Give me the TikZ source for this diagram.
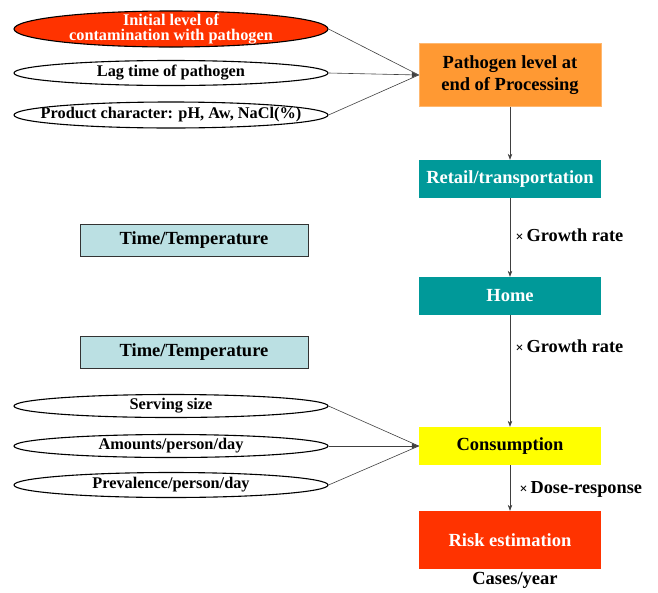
\documentclass[tikz,border=0pt]{standalone}
\usepackage{fontspec}
\setmainfont{Liberation Serif}
\usetikzlibrary{shapes.geometric,arrows.meta}
\definecolor{redc}{HTML}{FF3300}
\definecolor{orangec}{HTML}{FF9933}
\definecolor{tealc}{HTML}{009999}
\definecolor{yellowc}{HTML}{FFFF00}
\definecolor{cyanc}{HTML}{BBE0E3}
\tikzset{
  oval/.style={ellipse, draw=black, line width=1.1pt, minimum width=314pt, inner xsep=-40pt, inner ysep=-8pt, font=\bfseries\fontsize{16.3}{14.5}\selectfont, align=center},
  stage/.style={rectangle, minimum width=182pt, inner sep=0pt, font=\bfseries\fontsize{18.5}{22}\selectfont, align=center},
  ttbox/.style={rectangle, draw=black!80, line width=0.9pt, fill=cyanc, minimum width=228pt, minimum height=32pt, font=\bfseries\fontsize{18.5}{18.5}\selectfont},
  conn/.style={draw=black!75, line width=0.6pt},
  flow/.style={conn, -{Stealth[length=6pt,width=4.5pt]}},
  tip/.style={conn, -{Latex[length=7pt,width=6pt]}},
  lab/.style={font=\bfseries\fontsize{18.3}{18.3}\selectfont, anchor=west}
}
\newcommand{\xmark}{{\fontsize{14}{14}\selectfont\textbf{×}}}
\begin{document}
\begin{tikzpicture}[x=1pt,y=-1pt]
\useasboundingbox (0,0) rectangle (658,592);
% ellipses top
\node[oval, fill=redc, text=white, minimum height=36pt] (init) at (171,29) {Initial level of\\contamination with pathogen};
\node[oval, minimum height=25pt] (lag) at (171,73) {Lag time of pathogen};
\node[oval, minimum height=26pt] (prod) at (171,115) {Product character: pH, Aw, NaCl(\%)};
% stages
\node[stage, fill=orangec, draw=orangec!70, minimum height=63pt] (path) at (510,75) {Pathogen level at\\end of Processing};
\node[stage, fill=tealc, text=white, minimum height=38pt] (retail) at (510,179) {Retail/transportation};
\node[stage, fill=tealc, text=white, minimum height=38pt] (home) at (510,296) {Home};
\node[stage, fill=yellowc, minimum height=38pt] (cons) at (510,446) {Consumption};
\node[stage, fill=redc, text=white, minimum height=58pt] (risk) at (510,540) {Risk estimation};
\node[font=\bfseries\fontsize{18.5}{18.5}\selectfont] (cases) at (515,580) {Cases/year};
% time/temperature
\node[ttbox] (tt1) at (194,240) {Time/Temperature};
\node[ttbox] (tt2) at (194,352) {Time/Temperature};
% ellipses bottom
\node[oval, minimum height=23pt] (serv) at (171,406) {Serving size};
\node[oval, minimum height=23pt] (amt) at (171,446) {Amounts/person/day};
\node[oval, minimum height=25pt] (prev) at (171,485) {Prevalence/person/day};
% converging connectors
\coordinate (pin) at (path.west);
\draw[conn] (init.east) -- (pin);
\draw[conn] (prod.east) -- (pin);
\draw[tip] (lag.east) -- (pin);
\coordinate (cin) at (cons.west);
\draw[conn] (serv.east) -- (cin);
\draw[conn] (prev.east) -- (cin);
\draw[tip] (amt.east) -- (cin);
% flow
\draw[flow] (path.south) -- (retail.north);
\draw[flow] (retail.south) -- (home.north);
\draw[flow] (home.south) -- (cons.north);
\draw[flow] (cons.south) -- (risk.north);
\node[lab] (g1) at (512,235) {\xmark\,Growth rate};
\node[lab] (g2) at (512,346) {\xmark\,Growth rate};
\node[lab] (dr) at (516,489) {\xmark\,Dose-response};
\end{tikzpicture}
\end{document}
